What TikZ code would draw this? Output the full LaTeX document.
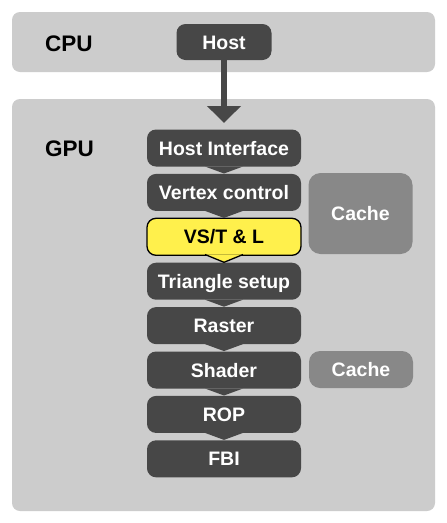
\documentclass[tikz,border=0pt]{standalone}
\usepackage{fontspec}
\setmainfont{Liberation Sans}
\usetikzlibrary{arrows.meta}
\definecolor{panelgray}{HTML}{CCCCCC}
\definecolor{stagegray}{HTML}{474747}
\definecolor{cachegray}{HTML}{888888}
\definecolor{vsyellow}{HTML}{FFF04C}
\begin{document}
\begin{tikzpicture}[x=1pt,y=-1pt]
	\tikzstyle{panel}=[fill=panelgray,rounded corners=8pt]
	\tikzstyle{title}=[anchor=west,inner sep=0pt,font=\fontsize{22.5}{24}\selectfont\bfseries]
	\tikzstyle{stage}=[fill=stagegray,text=white,rounded corners=9pt,minimum width=154pt,minimum height=37pt,inner sep=0pt,outer sep=0pt,text height=14pt,text depth=0pt,font=\fontsize{19.5}{20}\selectfont\bfseries]
	\tikzstyle{cache}=[stage,fill=cachegray,minimum width=104pt,rounded corners=11pt]

	\useasboundingbox[fill=white] (0,0) rectangle (447,523);
	\fill[panel] (12,12) rectangle (435,72);
	\fill[panel] (12,99) rectangle (435,511);

	\node at (45,43.5) (cpu) [title] {CPU};
	\node at (45,148.5) (gpu) [title] {GPU};

	\node at (224,42) (host) [stage,minimum width=95pt,minimum height=36pt] {Host};
	\node at (224,148) (hif) [stage] {Host Interface};
	\node at (224,192.4) (vc) [stage] {Vertex control};
	\node at (224,236.8) (vst) [stage,fill=vsyellow,draw=black,line width=1.3pt,text=black] {VS/T \& L};
	\node at (224,281.2) (tri) [stage] {Triangle setup};
	\node at (224,325.6) (ras) [stage] {Raster};
	\node at (224,370) (sha) [stage] {Shader};
	\node at (224,414.4) (rop) [stage] {ROP};
	\node at (224,458.8) (fbi) [stage] {FBI};

	\node at (360.5,213.5) (cachevc) [cache,minimum height=81pt,rounded corners=12pt] {Cache};
	\node at (361,369.5) (cachesh) [cache] {Cache};

	% tabs pointing to the next stage
	\foreach \s in {hif,vc,tri,ras,sha,rop}
		\fill[stagegray] ([xshift=-19pt]\s.south) -- ([yshift=-7pt]\s.south) -- ([xshift=19pt]\s.south) -- cycle;
	\filldraw[fill=vsyellow,draw=black,line width=1.3pt,line join=round] ([xshift=-19pt,yshift=0.8pt]vst.south) -- ([yshift=-7pt]vst.south) -- ([xshift=19pt,yshift=0.8pt]vst.south);

	\coordinate (tip) at (224,123);
	\draw[stagegray,line width=6pt,-{Triangle[width=33pt,length=17pt]}] (host.south) -- (tip);
\end{tikzpicture}
\end{document}
